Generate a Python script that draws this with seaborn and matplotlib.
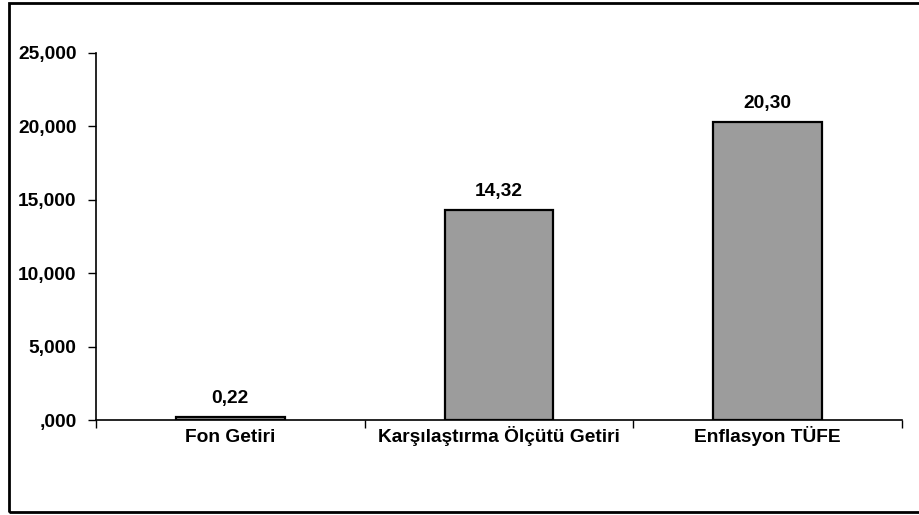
import matplotlib
matplotlib.use("Agg")
import matplotlib.pyplot as plt
import seaborn as sns
import pandas as pd
from matplotlib.patches import Rectangle
from matplotlib.ticker import FixedLocator, FuncFormatter

categories = ["Fon Getiri", "Karşılaştırma Ölçütü Getiri", "Enflasyon TÜFE"]
values = [0.22, 14.32, 20.30]
value_labels = ["0,22", "14,32", "20,30"]
y_ticks = [0, 5, 10, 15, 20, 25]

sns.set_theme(style="white")
plt.rcParams['font.family'] = ['Liberation Sans', 'DejaVu Sans']
plt.rcParams['text.color'] = 'black'
plt.rcParams['xtick.color'] = 'black'
plt.rcParams['ytick.color'] = 'black'

df = pd.DataFrame({"cat": categories, "val": values})

fig = plt.figure(figsize=(9.2, 5.15), dpi=100)
fig.patch.set_facecolor("white")
ax = fig.add_axes([96/920, (515-420)/515, (902-96)/920, (420-53)/515])

sns.barplot(data=df, x="cat", y="val", ax=ax, color="#9c9c9c", width=0.405,
            edgecolor="black", linewidth=1.6, saturation=1)

ax.set_xlim(-0.5, 2.5)
ax.set_ylim(0, 25)
ax.set_xlabel("")
ax.set_ylabel("")

FS = 13.8

def yfmt(v, pos):
    s = f"{v:.3f}".replace(".", ",")
    if s.startswith("0,"):
        s = s[1:]
    return s

ax.yaxis.set_major_locator(FixedLocator(y_ticks))
ax.yaxis.set_major_formatter(FuncFormatter(yfmt))
ax.tick_params(axis="y", which="major", direction="out", length=6, width=1,
               color="black", labelcolor="black", labelsize=FS, pad=8, left=True)
for lbl in ax.get_yticklabels():
    lbl.set_fontweight("bold")

ax.set_xticks(range(len(categories)))
ax.set_xticklabels(categories, fontsize=FS, fontweight="bold", va="baseline")
ax.tick_params(axis="x", which="major", length=0, pad=16, labelcolor="black")
ax.set_xticks([-0.5, 0.5, 1.5, 2.5], minor=True)
ax.tick_params(axis="x", which="minor", direction="out", length=6, width=1,
               color="black", bottom=True)

for sp in ["top", "right"]:
    ax.spines[sp].set_visible(False)
for sp in ["left", "bottom"]:
    ax.spines[sp].set_color("black")
    ax.spines[sp].set_linewidth(1.2)

for i, (v, t) in enumerate(zip(values, value_labels)):
    ax.annotate(t, xy=(i, v), xytext=(0, 7), textcoords="offset points",
                ha="center", va="bottom", fontsize=FS, fontweight="bold",
                color="black")

fig.add_artist(Rectangle((9/920, 3/515), 1.0, 509/515, transform=fig.transFigure,
                         fill=False, edgecolor="black", linewidth=2, clip_on=False))

fig.savefig("out.png", dpi=100)
